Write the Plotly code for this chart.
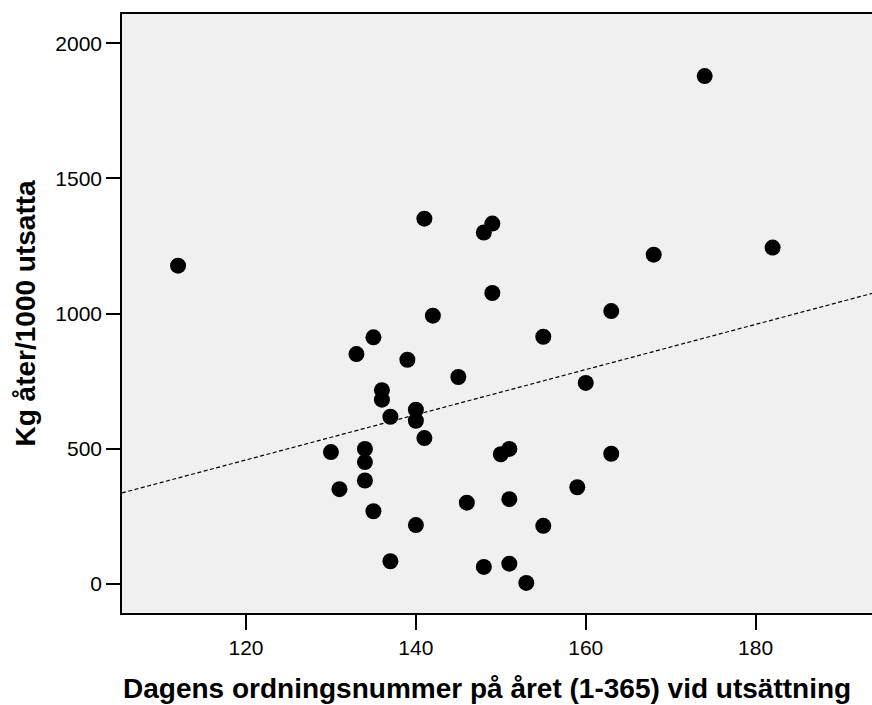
import numpy as np
import plotly.graph_objects as go

# Day of year at release
day = [112, 141, 149, 148, 149, 142, 163, 174, 168, 182,
       135, 133, 139, 145, 155, 136, 136, 137, 140, 140,
       141, 160, 163, 159, 130, 134, 134, 134, 131, 135,
       140, 137, 146, 150, 151, 151, 155, 148, 151, 153]
# Kg recaptured per 1000 released
kg = [1177, 1351, 1333, 1300, 1076, 992, 1009, 1879, 1218, 1244,
      912, 850, 829, 765, 914, 716, 681, 618, 644, 603,
      539, 743, 481, 357, 487, 499, 450, 382, 350, 268,
      217, 83, 300, 479, 499, 313, 214, 62, 74, 3]

x_ticks = [120, 140, 160, 180]
y_ticks = [0, 500, 1000, 1500, 2000]
x_title = "Dagens ordningsnummer på året (1-365) vid utsättning"
y_title = "Kg åter/1000 utsatta"

x_range = [105.4, 193.7]
y_range = [-108.5, 2108.7]

slope, intercept = np.polyfit(day, kg, 1)
fit_x = np.array(x_range)
fit_y = slope * fit_x + intercept

fig = go.Figure()
fig.add_trace(go.Scatter(x=fit_x, y=fit_y, mode="lines",
                         line=dict(color="black", width=1.2, dash="4px,2.5px"),
                         hoverinfo="skip", showlegend=False))
fig.add_trace(go.Scatter(x=day, y=kg, mode="markers",
                         marker=dict(color="black", size=16, line=dict(width=0)),
                         showlegend=False))

font = "Liberation Sans, Arial, sans-serif"
fig.update_layout(
    width=872, height=705,
    margin=dict(l=122, r=0, t=14, b=92, pad=0),
    paper_bgcolor="white", plot_bgcolor="#F0F0F0",
    font=dict(family=font, size=21, color="black"),
    showlegend=False,
    xaxis=dict(range=x_range, tickvals=x_ticks, ticks="outside", ticklen=15,
               tickwidth=1.5, tickcolor="black", showline=True, linecolor="black",
               linewidth=1.5, mirror=True, showgrid=False, zeroline=False,
               tickfont=dict(size=21)),
    yaxis=dict(range=y_range, tickvals=y_ticks, ticks="outside", ticklen=14,
               tickwidth=1.5, tickcolor="black", showline=True, linecolor="black",
               linewidth=1.5, mirror=False, showgrid=False, zeroline=False,
               tickfont=dict(size=21)),
    annotations=[
        dict(text="<b>" + x_title + "</b>", xref="paper", yref="paper",
             x=(487 - 122) / 750.0, y=-(689 - 613.3) / 599.0, xanchor="center",
             yanchor="middle", showarrow=False, font=dict(size=28)),
        dict(text="<b>" + y_title + "</b>", xref="paper", yref="paper",
             x=-(122 - 25) / 750.0, y=0.5, xanchor="center", yanchor="middle",
             textangle=-90, showarrow=False, font=dict(size=28)),
    ],
)
fig.write_html("out.html")
